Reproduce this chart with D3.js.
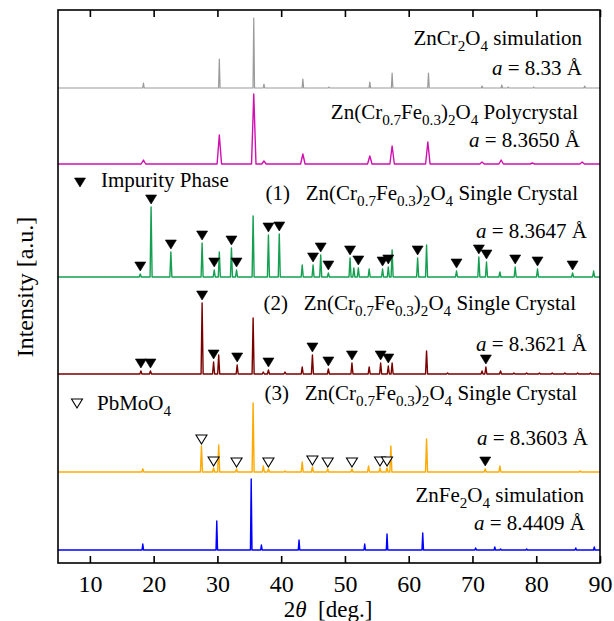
<!DOCTYPE html>
<html><head><meta charset="utf-8">
<script src="https://cdn.jsdelivr.net/npm/d3@7"></script>
<style>
html,body{margin:0;padding:0;background:#fff;}
text{font-family:"Liberation Serif","Times New Roman",serif;fill:#000;}
</style></head>
<body><svg id="c" width="614" height="621"></svg>
<script>
// ---------- data ----------
const xDomain = [5, 90];
const xTicks = [10, 20, 30, 40, 50, 60, 70, 80, 90];
const seriesNames = ["ZnCr2O4 sim", "Polycrystal", "SC1", "SC2", "SC3", "ZnFe2O4 sim"];
const seriesColors = ["#9a9a9a", "#d010b0", "#14a050", "#7a0000", "#ffaa00", "#0000ff"];
const seriesOffsets = [475, 399, 286, 189, 91, 13];   // a.u. baseline offsets
const seriesWidths = [0.12, 0.35, 0.16, 0.16, 0.16, 0.12]; // peak half-width (deg)

const peaksZnCr = [[18.4,5],[30.3,29],[35.7,70],[37.3,4],[43.4,9],[47.5,1],[53.9,6],[57.4,15],[63.1,15],[71.5,2],[74.6,3],[75.6,1],[79.6,1],[87.6,2]];
const peaksPoly = [[18.4,4],[30.3,29],[35.7,70],[37.3,3],[43.4,10],[53.9,8],[57.4,18],[63.0,22],[71.5,2],[74.5,4],[79.4,1],[87.2,2]];
const peaksSC1 = [[17.9,3],[19.6,70],[22.7,25],[27.6,34],[29.5,7],[30.3,25],[32.2,29],[33.0,7],[35.6,61],[38.0,42],[39.7,43],[43.3,12],[45.0,12],[46.2,22],[47.4,4],[50.8,19],[51.4,9],[52.1,9],[53.8,8],[55.9,8],[56.8,10],[57.4,27],[61.4,19],[62.8,32],[67.5,6],[71.0,20],[72.2,15],[74.3,5],[76.7,10],[80.2,8],[85.7,4],[89.0,6]];
const peaksSC2 = [[18.0,3],[19.5,3],[27.6,71],[29.4,12],[30.2,19],[33.1,9],[35.6,56],[37.2,2],[38.0,4],[40.6,2],[43.3,7],[44.9,19],[47.4,5],[51.1,11],[53.8,7],[55.6,11],[56.8,8],[57.4,11],[62.8,23],[66.1,1],[71.5,3],[72.1,7],[74.4,3],[76.5,1],[78.5,1],[80.5,1],[82.5,1],[84.5,1],[86.5,1],[88.5,1]];
const peaksSC3 = [[18.3,3],[27.5,26],[29.4,4],[30.2,27],[33.0,3],[35.6,69],[37.2,6],[38.0,3],[40.6,1],[43.3,10],[44.9,5],[47.3,3],[51.1,3],[53.7,6],[55.5,4],[56.6,4],[57.2,26],[62.8,33],[72.0,3],[74.3,6],[86.9,1]];
const peaksZnFe = [[18.3,6],[29.9,29],[35.3,71],[36.9,5],[42.8,10],[53.1,6],[56.6,16],[62.2,17],[70.5,2],[73.5,3],[74.4,1],[78.5,1],[86.2,2],[89.1,3]];
const seriesPeaks = [peaksZnCr, peaksPoly, peaksSC1, peaksSC2, peaksSC3, peaksZnFe];

// impurity markers (filled) and PbMoO4 markers (open): peak positions
const impuritySC1 = [17.9,19.6,22.7,27.6,29.5,32.2,33.0,38.0,39.7,45.0,46.2,47.4,50.8,52.1,55.9,56.8,61.4,67.5,71.0,72.2,76.7,80.2,85.7];
const impuritySC2 = [18.0,19.5,27.6,29.4,33.1,38.0,44.9,47.4,51.1,55.6,56.8,72.1];
const impuritySC3 = [72.0];
const pbmoo4SC3 = [27.5,29.4,33.0,38.0,44.9,47.3,51.1,55.5,56.6];

// ---------- drawing ----------
const FONT = '"Liberation Serif","Times New Roman",serif';
const svg = d3.select("#c");
const L = 58, R = 600, T = 10, B = 563;
const x = d3.scaleLinear().domain(xDomain).range([L, R]);
const y = d3.scaleLinear().domain([0, B - T]).range([B, T]);

const line = d3.line().x(d => x(d[0])).y(d => y(d[1]));

seriesPeaks.forEach((peaks, i) => {
  const off = seriesOffsets[i], w = seriesWidths[i];
  const pts = [[xDomain[0], off]];
  peaks.forEach(([p, h]) => {
    pts.push([p - w, off]);
    pts.push([p, off + h]);
    pts.push([p + w, off]);
  });
  pts.push([xDomain[1], off]);
  svg.append("path").attr("d", line(pts))
    .attr("fill", "none").attr("stroke", seriesColors[i])
    .attr("stroke-width", i === 0 ? 1.2 : 1.4).attr("stroke-linejoin", "round");
});

function peakHeight(i, pos) {
  let best = null;
  seriesPeaks[i].forEach(([p, h]) => { if (best === null || Math.abs(p - pos) < Math.abs(best[0] - pos)) best = [p, h]; });
  return seriesOffsets[i] + best[1];
}
function tri(cx, apexY, open) {
  const hw = 5.5, hh = 9;
  svg.append("path")
    .attr("d", `M${cx - hw},${apexY - hh}L${cx + hw},${apexY - hh}L${cx},${apexY}Z`)
    .attr("fill", open ? "#fff" : "#000").attr("stroke", "#000")
    .attr("stroke-width", open ? 1.1 : 0.6);
}
[[2, impuritySC1, false], [3, impuritySC2, false], [4, impuritySC3, false], [4, pbmoo4SC3, true]]
  .forEach(([i, arr, open]) => arr.forEach(p => tri(x(p), y(peakHeight(i, p)) - (open ? 2 : 3), open)));

// axes
const axB = d3.axisBottom(x).tickValues(xTicks).tickSize(-7).tickPadding(12).tickFormat(d3.format("d"));
const axT = d3.axisTop(x).tickValues(xTicks).tickSize(-7).tickFormat("");
const gb = svg.append("g").attr("transform", `translate(0,${B})`).call(axB)
  .attr("font-family", FONT).attr("font-size", 24);
const gt = svg.append("g").attr("transform", `translate(0,${T})`).call(axT);
[gb, gt].forEach(g => {
  g.select(".domain").remove();
  g.selectAll(".tick line").attr("stroke", "#000").attr("stroke-width", 1.6);
});
gb.selectAll(".tick text").attr("fill", "#000");
svg.append("rect").attr("x", L).attr("y", T).attr("width", R - L).attr("height", B - T)
  .attr("fill", "none").attr("stroke", "#000").attr("stroke-width", 1.6);

// label helper: segments [text, style]
function label(xp, yp, segs, anchor, size) {
  const t = svg.append("text").attr("x", xp).attr("y", yp).attr("text-anchor", anchor)
    .style("font-size", size + "px").attr("xml:space", "preserve");
  let shifted = 0;
  segs.forEach(([s, st]) => {
    const ts = t.append("tspan").text(s);
    if (st === "sub") {
      ts.style("font-size", (size * 0.72) + "px");
      if (!shifted) { ts.attr("dy", size * 0.28); shifted = 1; }
    } else {
      if (shifted) { ts.attr("dy", -size * 0.28); shifted = 0; }
      if (st === "it") ts.style("font-style", "italic");
    }
  });
  return t;
}
const FS = 21;
const formula = [["Zn(Cr"],["0.7","sub"],["Fe"],["0.3","sub"],[")"],["2","sub"],["O"],["4","sub"]];
label(582, 45, [["ZnCr"],["2","sub"],["O"],["4","sub"],[" simulation"]], "end", FS);
label(582, 75, [["a","it"],[" = 8.33 Å"]], "end", FS);
label(578, 119, formula.concat([[" Polycrystal"]]), "end", FS);
label(580, 147, [["a","it"],[" = 8.3650 Å"]], "end", FS);
label(578, 200, [["(1)   "]].concat(formula, [[" Single Crystal"]]), "end", FS);
label(587, 238, [["a","it"],[" = 8.3647 Å"]], "end", FS);
label(576, 310, [["(2)   "]].concat(formula, [[" Single Crystal"]]), "end", FS);
label(587, 351, [["a","it"],[" = 8.3621 Å"]], "end", FS);
label(577, 400, [["(3)   "]].concat(formula, [[" Single Crystal"]]), "end", FS);
label(588, 445, [["a","it"],[" = 8.3603 Å"]], "end", FS);
label(584, 502, [["ZnFe"],["2","sub"],["O"],["4","sub"],[" simulation"]], "end", FS);
label(585, 530, [["a","it"],[" = 8.4409 Å"]], "end", FS);

// legends
tri(80, 187, false);
label(101, 187, [["Impurity Phase"]], "start", FS);
tri(77, 408, true);
label(97, 410, [["PbMoO"],["4","sub"]], "start", FS);

// axis titles
label(328, 617, [["2"],["θ","it"],["  [deg.]"]], "middle", 23);
svg.append("text").attr("transform", "translate(33,287) rotate(-90)")
  .attr("text-anchor", "middle").style("font-size", "24px").text("Intensity [a.u.]");
</script></body></html>
